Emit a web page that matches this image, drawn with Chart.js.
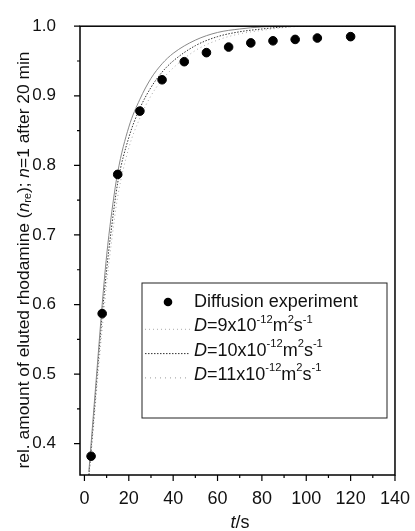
<!DOCTYPE html>
<html>
<head>
<meta charset="utf-8">
<script src="https://cdn.jsdelivr.net/npm/chart.js@4.4.1/dist/chart.umd.min.js"></script>
<style>
  html, body { margin: 0; padding: 0; background: #fff; }
  #wrap { width: 415px; height: 531px; position: relative; }
</style>
</head>
<body>
<div id="wrap"><canvas id="myChart"></canvas></div>
<script>
// measured points (t in s, rel. amount)
const expT = [3, 8, 15, 25, 35, 45, 55, 65, 75, 85, 95, 105, 120];
const expY = [0.382, 0.587, 0.787, 0.878, 0.923, 0.949, 0.962, 0.970, 0.976, 0.979, 0.981, 0.983, 0.985];

// simulated curves
const simT   = [2, 4, 6, 8, 10, 12, 15, 20, 25, 30, 35, 40, 50, 60, 70, 80, 90, 100, 120, 140];
const simD9  = [0.350, 0.420, 0.495, 0.565, 0.630, 0.685, 0.755, 0.825, 0.868, 0.900, 0.923, 0.940, 0.965, 0.980, 0.989, 0.994, 0.998, 1.0, 1.0, 1.0];
const simD10 = [0.355, 0.430, 0.510, 0.585, 0.650, 0.705, 0.775, 0.840, 0.882, 0.912, 0.934, 0.950, 0.972, 0.985, 0.992, 0.996, 0.999, 1.0, 1.0, 1.0];
const simD11 = [0.360, 0.440, 0.520, 0.600, 0.670, 0.725, 0.790, 0.855, 0.895, 0.925, 0.946, 0.961, 0.980, 0.991, 0.996, 0.999, 1.0, 1.0, 1.0, 1.0];

const xTicks = [0, 20, 40, 60, 80, 100, 120, 140];
const xMinor = [10, 30, 50, 70, 90, 110, 130];
const yTicks = [0.4, 0.5, 0.6, 0.7, 0.8, 0.9, 1.0];
const yMinor = [0.45, 0.55, 0.65, 0.75, 0.85, 0.95];

const FONT = '"Liberation Sans", Arial, sans-serif';

function pts(xs, ys) {
    return xs.map((x, i) => ({ x: x, y: ys[i] }));
}

// draws text pieces with italic / super / subscript parts
function richWidth(ctx, segs, size) {
    let w = 0;
    segs.forEach(s => {
        const sz = s.sup || s.sub ? size * 0.62 : size;
        ctx.font = (s.it ? 'italic ' : '') + sz + 'px ' + FONT;
        w += ctx.measureText(s.t).width;
    });
    return w;
}
function drawRich(ctx, segs, x, y, size) {
    let cx = x;
    segs.forEach(s => {
        const sz = s.sup || s.sub ? size * 0.62 : size;
        ctx.font = (s.it ? 'italic ' : '') + sz + 'px ' + FONT;
        let dy = 0;
        if (s.sup) dy = -size * 0.38;
        if (s.sub) dy = size * 0.22;
        ctx.fillText(s.t, cx, y + dy);
        cx += ctx.measureText(s.t).width;
    });
}

const legendRows = [
    { kind: 'dot', segs: [{ t: 'Diffusion experiment' }] },
    { kind: 'line', color: '#aaaaaa', dash: [1, 3], segs: [{ t: 'D', it: true }, { t: '=9x10' }, { t: '-12', sup: true }, { t: 'm' }, { t: '2', sup: true }, { t: 's' }, { t: '-1', sup: true }] },
    { kind: 'line', color: '#333333', dash: [1.5, 1.5], segs: [{ t: 'D', it: true }, { t: '=10x10' }, { t: '-12', sup: true }, { t: 'm' }, { t: '2', sup: true }, { t: 's' }, { t: '-1', sup: true }] },
    { kind: 'line', color: '#999999', dash: [1, 4], segs: [{ t: 'D', it: true }, { t: '=11x10' }, { t: '-12', sup: true }, { t: 'm' }, { t: '2', sup: true }, { t: 's' }, { t: '-1', sup: true }] }
];

const decor = {
    id: 'decor',
    afterDraw(chart) {
        const ctx = chart.ctx;
        const a = chart.chartArea;
        const xs = chart.scales.x, ys = chart.scales.y;
        ctx.save();
        ctx.strokeStyle = '#000';
        ctx.lineWidth = 1.5;
        ctx.strokeRect(a.left, a.top, a.right - a.left, a.bottom - a.top);

        // tick marks, outward
        ctx.lineWidth = 1.2;
        ctx.beginPath();
        xTicks.forEach(v => { const p = xs.getPixelForValue(v); ctx.moveTo(p, a.bottom); ctx.lineTo(p, a.bottom + 6); });
        xMinor.forEach(v => { const p = xs.getPixelForValue(v); ctx.moveTo(p, a.bottom); ctx.lineTo(p, a.bottom + 3); });
        yTicks.forEach(v => { const p = ys.getPixelForValue(v); ctx.moveTo(a.left, p); ctx.lineTo(a.left - 6, p); });
        yMinor.forEach(v => { const p = ys.getPixelForValue(v); ctx.moveTo(a.left, p); ctx.lineTo(a.left - 3, p); });
        ctx.stroke();

        // legend box
        const lx = 142, ly = 283, lw = 245, lh = 135;
        ctx.lineWidth = 1;
        ctx.strokeStyle = '#222';
        ctx.fillStyle = '#fff';
        ctx.fillRect(lx, ly, lw, lh);
        ctx.strokeRect(lx, ly, lw, lh);
        ctx.textBaseline = 'middle';
        legendRows.forEach((r, i) => {
            const y = 302 + i * 24.3;
            if (r.kind === 'dot') {
                ctx.fillStyle = '#000';
                ctx.beginPath();
                ctx.arc(168, y, 4.3, 0, Math.PI * 2);
                ctx.fill();
            } else {
                ctx.strokeStyle = r.color;
                ctx.setLineDash(r.dash);
                ctx.beginPath();
                ctx.moveTo(145, y + 3);
                ctx.lineTo(190, y + 3);
                ctx.stroke();
                ctx.setLineDash([]);
            }
            ctx.fillStyle = '#111';
            drawRich(ctx, r.segs, 194, y, 18);
        });

        // axis titles
        ctx.fillStyle = '#111';
        const yTitle = [
            { t: 'rel. amount of eluted rhodamine (' }, { t: 'n', it: true }, { t: 're', sub: true },
            { t: '); ' }, { t: 'n', it: true }, { t: '=1 after 20 min' }
        ];
        ctx.save();
        ctx.translate(24, 260);
        ctx.rotate(-Math.PI / 2);
        const w = richWidth(ctx, yTitle, 17.4);
        drawRich(ctx, yTitle, -w / 2, 0, 17.4);
        ctx.restore();

        const xTitle = [{ t: 't', it: true }, { t: '/s' }];
        const xw = richWidth(ctx, xTitle, 18);
        drawRich(ctx, xTitle, 240 - xw / 2, 523, 18);
        ctx.restore();
    }
};

const ctx = document.getElementById('myChart').getContext('2d');
new Chart(ctx, {
    type: 'scatter',
    data: {
        datasets: [
            {
                label: 'Diffusion experiment',
                data: pts(expT, expY),
                backgroundColor: '#000',
                borderColor: '#000',
                pointRadius: 4.3,
                order: 0
            },
            {
                label: 'D=9',
                data: pts(simT, simD9),
                showLine: true,
                borderColor: '#aaaaaa',
                borderWidth: 1,
                borderDash: [1, 3],
                pointRadius: 0,
                cubicInterpolationMode: 'monotone',
                order: 3
            },
            {
                label: 'D=10',
                data: pts(simT, simD10),
                showLine: true,
                borderColor: '#333333',
                borderWidth: 1,
                borderDash: [1.5, 1.5],
                pointRadius: 0,
                cubicInterpolationMode: 'monotone',
                order: 2
            },
            {
                label: 'D=11',
                data: pts(simT, simD11),
                showLine: true,
                borderColor: '#888888',
                borderWidth: 1,
                pointRadius: 0,
                cubicInterpolationMode: 'monotone',
                order: 1
            }
        ]
    },
    options: {
        responsive: true,
        maintainAspectRatio: false,
        animation: false,
        layout: { padding: { top: 19, right: 17, left: 0, bottom: 0 } },
        plugins: { legend: { display: false }, tooltip: { enabled: false } },
        scales: {
            x: {
                type: 'linear',
                min: -2,
                max: 140,
                afterBuildTicks: s => { s.ticks = xTicks.map(v => ({ value: v })); },
                afterFit: s => { s.height = 56; },
                grid: { display: false },
                border: { display: false },
                ticks: { color: '#111', padding: 5, font: { family: FONT, size: 18 }, maxRotation: 0 }
            },
            y: {
                min: 0.355,
                max: 1.0,
                afterBuildTicks: s => { s.ticks = yTicks.map(v => ({ value: v })); },
                afterFit: s => { s.width = 80; },
                grid: { display: false },
                border: { display: false },
                ticks: { color: '#111', padding: 16, font: { family: FONT, size: 17 }, callback: v => v.toFixed(1) }
            }
        }
    },
    plugins: [decor]
});
</script>
</body>
</html>
